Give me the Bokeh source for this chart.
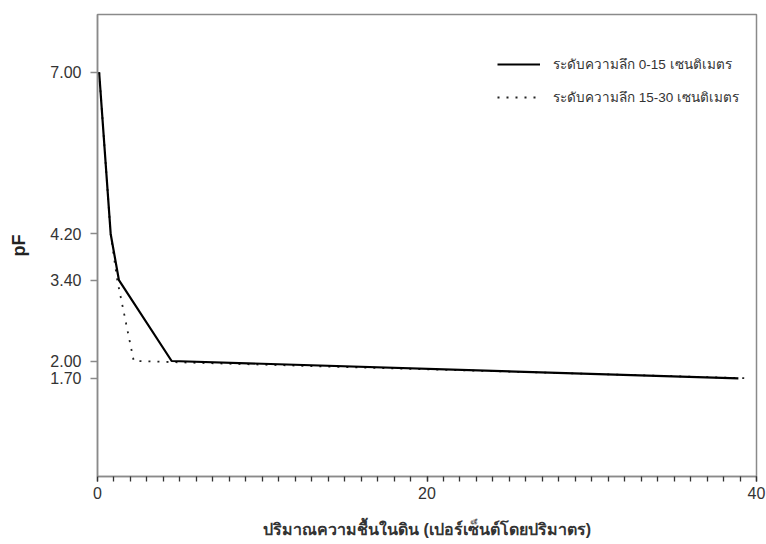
from bokeh.plotting import figure
from bokeh.models import FixedTicker, Range1d, Legend, LegendItem, CustomJSTickFormatter
from bokeh.embed import file_html
from bokeh.resources import INLINE

# Data
depth_0_15_moisture = [0.1, 0.8, 1.3, 4.5, 38.9]
depth_0_15_pf = [7.0, 4.2, 3.4, 2.0, 1.7]
depth_15_30_moisture = [0.1, 0.8, 1.2, 2.2, 39.5]
depth_15_30_pf = [7.0, 4.2, 3.4, 2.0, 1.7]

y_ticks = [1.7, 2.0, 3.4, 4.2, 7.0]
x_ticks = [0, 20, 40]
x_minor = [float(v) for v in range(0, 41)]

label_0_15 = "ระดับความลึก 0-15 เซนติเมตร"
label_15_30 = "ระดับความลึก 15-30 เซนติเมตร"
x_title = "ปริมาณความชื้นในดิน (เปอร์เซ็นต์โดยปริมาตร)"
y_title = "pF"

FONT = "Liberation Sans"
GRAY = "#8a8a8a"
TXT = "#333333"

p = figure(width=766, height=544, output_backend="svg", toolbar_location=None,
           x_range=Range1d(0, 40), y_range=Range1d(0, 8),
           min_border_left=97, min_border_right=10, min_border_top=14, min_border_bottom=68)
p.xgrid.visible = False
p.ygrid.visible = False
p.outline_line_color = GRAY
p.outline_line_width = 1.5

r1 = p.line(depth_0_15_moisture, depth_0_15_pf, line_color="black", line_width=2.2)
r2 = p.line(depth_15_30_moisture, depth_15_30_pf, line_color="#222222", line_width=1.8,
            line_dash="2 7")
p.renderers = [r2, r1]

legend = Legend(items=[LegendItem(label=label_0_15, renderers=[r1]),
                       LegendItem(label=label_15_30, renderers=[r2])],
                location=(400, 368), padding=0, margin=0,
                glyph_width=43, glyph_height=20, spacing=11, label_standoff=13,
                label_text_font=FONT, label_text_font_size="13.5px", label_text_color=TXT,
                border_line_color=None, background_fill_alpha=0)
p.add_layout(legend)

xa = p.xaxis[0]
xa.ticker = FixedTicker(ticks=x_ticks, minor_ticks=x_minor)
xa.axis_line_color = GRAY
xa.axis_line_width = 1.5
xa.major_tick_line_color = "#333333"
xa.minor_tick_line_color = "#333333"
xa.major_tick_line_width = 1.3
xa.minor_tick_line_width = 1.3
xa.major_tick_out = 5
xa.major_tick_in = 0
xa.minor_tick_out = 5
xa.minor_tick_in = 0
xa.major_label_standoff = 5
xa.major_label_text_font = FONT
xa.major_label_text_font_size = "16px"
xa.major_label_text_color = TXT
xa.axis_label = x_title
xa.axis_label_text_font = FONT
xa.axis_label_text_font_style = "bold"
xa.axis_label_text_font_size = "16px"
xa.axis_label_text_color = TXT
xa.axis_label_standoff = 19

ya = p.yaxis[0]
ya.ticker = FixedTicker(ticks=y_ticks, minor_ticks=[])
ya.formatter = CustomJSTickFormatter(code="return tick.toFixed(2);")
ya.axis_line_color = GRAY
ya.axis_line_width = 1.5
ya.major_tick_line_color = GRAY
ya.major_tick_line_width = 1.3
ya.major_tick_out = 7
ya.major_tick_in = 0
ya.minor_tick_out = 0
ya.minor_tick_in = 0
ya.major_label_standoff = 9
ya.major_label_text_font = FONT
ya.major_label_text_font_size = "16px"
ya.major_label_text_color = TXT
ya.axis_label = y_title
ya.axis_label_text_font = FONT
ya.axis_label_text_font_style = "bold"
ya.axis_label_text_font_size = "18px"
ya.axis_label_text_color = "#222222"
ya.axis_label_standoff = 18

open("out.html", "w").write(file_html(p, INLINE))
